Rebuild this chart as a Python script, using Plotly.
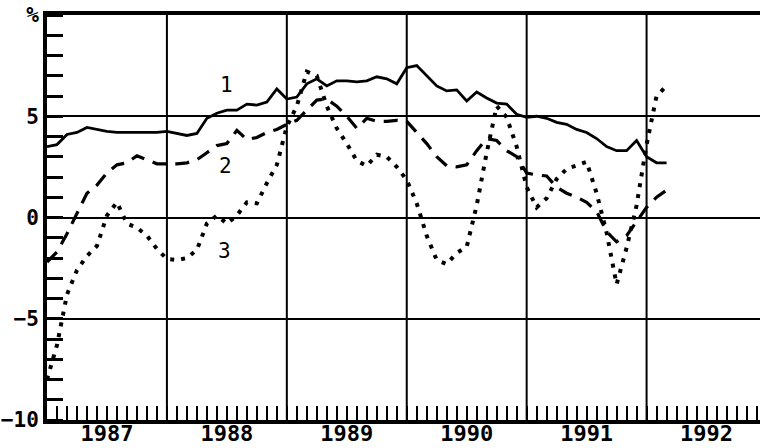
import plotly.graph_objects as go

# ---- data (monthly, starting January 1987) ----
start_year = 1987
series1 = [3.5, 3.6, 4.1, 4.2, 4.45, 4.35, 4.25, 4.2, 4.2, 4.2, 4.2, 4.2,
           4.25, 4.15, 4.05, 4.15, 4.9, 5.15, 5.3, 5.3, 5.6, 5.55, 5.7, 6.35,
           5.85, 5.95, 6.6, 6.85, 6.5, 6.75, 6.75, 6.7, 6.75, 6.95, 6.85, 6.6,
           7.4, 7.5, 7.0, 6.5, 6.25, 6.3, 5.75, 6.2, 5.9, 5.65, 5.6, 5.1,
           4.95, 5.0, 4.9, 4.7, 4.6, 4.35, 4.2, 3.9, 3.5, 3.3, 3.3, 3.8,
           3.0, 2.7, 2.7]
series2 = [-2.2, -1.7, -0.8, 0.2, 1.2, 1.6, 2.2, 2.6, 2.7, 3.05, 2.85, 2.65,
           2.65, 2.65, 2.7, 2.85, 3.2, 3.55, 3.65, 4.3, 3.85, 3.95, 4.2, 4.35,
           4.6, 4.8, 5.3, 5.8, 5.85, 5.5, 5.0, 4.4, 4.9, 4.75, 4.75, 4.8,
           4.75, 4.2, 3.65, 3.0, 2.55, 2.5, 2.6, 3.3, 3.9, 3.8, 3.3, 3.0,
           2.2, 2.1, 2.05, 1.5, 1.2, 1.0, 0.75, 0.3, -0.7, -1.2, -0.9, -0.2,
           0.5, 1.0, 1.35]
series3 = [-8.0, -6.3, -3.8, -2.6, -1.9, -1.4, 0.1, 0.75, -0.3, -0.5, -0.9, -1.55,
           -2.05, -2.1, -2.0, -1.6, -0.3, 0.1, -0.3, 0.1, 0.75, 0.7, 1.7, 2.6,
           4.5, 5.5, 7.2, 7.0, 5.5, 4.4, 3.65, 2.8, 2.55, 3.1, 3.0, 2.5,
           1.85, 0.7, -0.9, -2.1, -2.3, -1.75, -1.45, 0.6, 3.2, 5.5, 4.95, 3.5,
           1.5, 0.5, 0.95, 1.9, 2.4, 2.6, 2.75, 1.2, -0.75, -3.3, -1.5, 0.6,
           3.6, 6.0, 6.5]
series_labels = ["1", "2", "3"]
label_pos = [(1988.50, 6.55), (1988.49, 2.55), (1988.48, -1.65)]

years = [1987, 1988, 1989, 1990, 1991, 1992]
year_labels = ["1987", "1988", "1989", "1990", "1991", "1992"]
y_tickvals = [-10, -5, 0, 5, 10]
y_ticktext = ["\u221210", "\u22125", "0", "5", "%"]

x = [start_year + m / 12 for m in range(len(series1))]
x_range = [1987, 1987 + (760 - 46.5) / 120]

fig = go.Figure()
fig.add_trace(go.Scatter(x=x, y=series1, mode="lines",
                         line=dict(color="black", width=2.8)))
fig.add_trace(go.Scatter(x=x, y=series2, mode="lines",
                         line=dict(color="black", width=3.2, dash="14px,9px")))
fig.add_trace(go.Scatter(x=x, y=series3, mode="lines",
                         line=dict(color="black", width=4, dash="4px,7px")))

for lab, (lx, ly) in zip(series_labels, label_pos):
    fig.add_annotation(x=lx, y=ly, text=lab, showarrow=False,
                       font=dict(family="DejaVu Sans Mono", size=21, color="black"))

# vertical year gridlines
for yr in years[1:]:
    fig.add_shape(type="line", xref="x", yref="paper", x0=yr, x1=yr, y0=0, y1=1,
                  line=dict(color="black", width=2), layer="below")

# monthly tick positions (labels at mid-year) and quarter tick positions
mvals, mtext = [], []
for yr, lab in zip(years, year_labels):
    for m in range(12):
        mvals.append(yr + m / 12)
        mtext.append(lab if m == 6 else "")
qvals = [yr + q / 4 for yr in years for q in range(4)]

fig.update_layout(
    width=760, height=448,
    margin=dict(l=47, r=0, t=15, b=28),
    paper_bgcolor="white", plot_bgcolor="white",
    showlegend=False,
    xaxis=dict(
        range=x_range, automargin=False,
        tickmode="array", tickvals=mvals, ticktext=mtext,
        ticks="inside", ticklen=14, tickwidth=2, tickcolor="black",
        ticklabelstandoff=-9,
        showgrid=False, zeroline=False,
        showline=True, linewidth=4, linecolor="black", mirror=True,
        tickfont=dict(family="DejaVu Sans Mono", size=22, color="black", weight="bold"),
    ),
    xaxis2=dict(
        range=x_range, overlaying="x", side="bottom", automargin=False,
        tickmode="array", tickvals=qvals, showticklabels=False,
        ticks="inside", ticklen=27, tickwidth=2, tickcolor="black",
        showgrid=False, zeroline=False, showline=False,
    ),
    yaxis=dict(
        range=[-10, 10], automargin=False,
        tickmode="array", tickvals=y_tickvals, ticktext=y_ticktext,
        ticks="", showgrid=True, gridcolor="black", gridwidth=2,
        zeroline=False,
        showline=True, linewidth=4, linecolor="black",
        tickfont=dict(family="DejaVu Sans Mono", size=21, color="black", weight="bold"),
        minor=dict(tickmode="linear", tick0=0, dtick=1, ticks="inside",
                   ticklen=16, tickwidth=2.5, tickcolor="black", showgrid=False),
    ),
)

fig.write_html("out.html", config={"displayModeBar": False},
               post_script="document.body.style.margin='0';document.body.style.overflow='hidden';")
